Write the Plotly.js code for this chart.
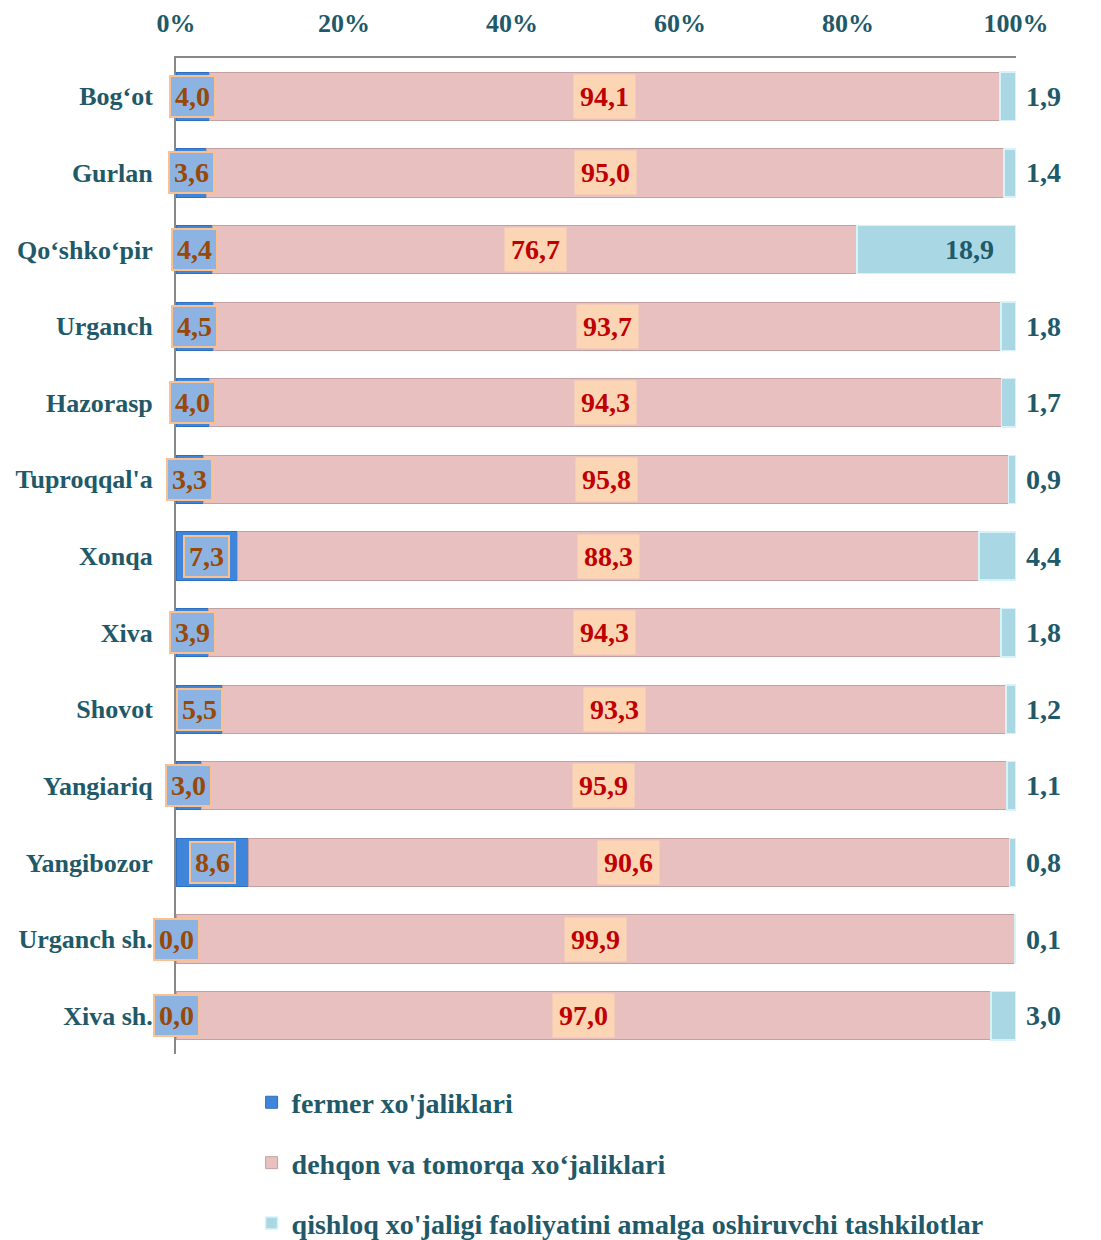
<!DOCTYPE html>
<html>
<head>
<meta charset="utf-8">
<script src="https://cdn.plot.ly/plotly-3.0.1.min.js"></script>
<style>
  html, body { margin: 0; padding: 0; background: #fff; }
  #grafik { width: 1101px; height: 1240px; }
</style>
</head>
<body>
<div id="grafik"></div>
<script>
// ── ma'lumotlar (foizlarda) ──
var tumanlar = ["Bog‘ot", "Gurlan", "Qo‘shko‘pir", "Urganch", "Hazorasp", "Tuproqqal'a",
    "Xonqa", "Xiva", "Shovot", "Yangiariq", "Yangibozor", "Urganch sh.", "Xiva sh."];

var fermer   = [4.0, 3.6, 4.4, 4.5, 4.0, 3.3, 7.3, 3.9, 5.5, 3.0, 8.6, 0.0, 0.0];
var dehqon   = [94.1, 95.0, 76.7, 93.7, 94.3, 95.8, 88.3, 94.3, 93.3, 95.9, 90.6, 99.9, 97.0];
var qishloq  = [1.9, 1.4, 18.9, 1.8, 1.7, 0.9, 4.4, 1.8, 1.2, 1.1, 0.8, 0.1, 3.0];

var shkalaQiymat = [0, 20, 40, 60, 80, 100];
var shkalaMatn   = ["0%", "20%", "40%", "60%", "80%", "100%"];

var nomlar = ["fermer xo'jaliklari", "dehqon va tomorqa xo‘jaliklari",
    "qishloq xo'jaligi faoliyatini amalga oshiruvchi tashkilotlar"];

var shrift = "Liberation Serif, Times New Roman, serif";
var rangMatn = "#215968";

function vergul(v) {
    return v.toFixed(1).replace(".", ",");
}

var traces = [
    {
        type: "bar", orientation: "h", name: nomlar[0], legendgroup: "a",
        y: tumanlar, x: fermer,
        marker: { color: "#3F86DA", line: { color: "#2F6FC0", width: 1 } },
        hoverinfo: "skip"
    },
    {
        type: "bar", orientation: "h", name: nomlar[1], legendgroup: "b",
        y: tumanlar, x: dehqon,
        marker: { color: "#E9C0C0", line: { color: "#C4A0A0", width: 1 } },
        hoverinfo: "skip"
    },
    {
        type: "bar", orientation: "h", name: nomlar[2], legendgroup: "c",
        y: tumanlar, x: qishloq,
        marker: { color: "#A9D8E4", line: { color: "#D6F3F9", width: 1.5 } },
        hoverinfo: "skip"
    }
];

// ── yorliqlar (annotations) ──
var yorliqlar = [];
tumanlar.forEach(function (t, i) {
    yorliqlar.push({
        x: fermer[i] / 2, y: t, xref: "x", yref: "y",
        text: vergul(fermer[i]), showarrow: false,
        font: { family: shrift, size: 28, color: "#984807", weight: "bold" },
        bgcolor: "#8DB3E2", bordercolor: "#FAC090", borderwidth: 2, borderpad: 4
    });
    yorliqlar.push({
        x: fermer[i] + dehqon[i] / 2, y: t, xref: "x", yref: "y",
        text: vergul(dehqon[i]), showarrow: false,
        font: { family: shrift, size: 28, color: "#C00000", weight: "bold" },
        bgcolor: "#FCD5B5", borderpad: 6
    });
    var ichida = qishloq[i] > 10;
    yorliqlar.push({
        x: 100, y: t, xref: "x", yref: "y",
        text: vergul(qishloq[i]), showarrow: false,
        xanchor: ichida ? "right" : "left",
        xshift: ichida ? -20 : 8,
        font: { family: shrift, size: 28, color: rangMatn, weight: "bold" }
    });
});

var layout = {
    width: 1101, height: 1240,
    margin: { l: 176, r: 85, t: 58, b: 186 },
    paper_bgcolor: "#fff", plot_bgcolor: "#fff",
    barmode: "stack", bargap: 0.37,
    font: { family: shrift, color: rangMatn, weight: "bold" },
    xaxis: {
        side: "top", range: [0, 100], tickvals: shkalaQiymat, ticktext: shkalaMatn,
        showgrid: false, zeroline: false,
        showline: true, linecolor: "#888", linewidth: 2,
        ticks: "", ticklabelstandoff: 14,
        tickfont: { family: shrift, size: 26, color: rangMatn, weight: "bold" }
    },
    yaxis: {
        autorange: "reversed", showgrid: false, zeroline: false,
        showline: true, linecolor: "#888", linewidth: 2,
        ticks: "", ticklabelstandoff: 16,
        tickfont: { family: shrift, size: 26, color: rangMatn, weight: "bold" }
    },
    showlegend: true,
    legend: {
        orientation: "v", xref: "paper", x: 0.09, yref: "container", y: 0.131,
        xanchor: "left", yanchor: "top",
        traceorder: "grouped", tracegroupgap: 21,
        itemwidth: 30,
        font: { family: shrift, size: 28, color: rangMatn, weight: "bold" }
    },
    annotations: yorliqlar
};

Plotly.newPlot("grafik", traces, layout, { displayModeBar: false, staticPlot: true });
</script>
</body>
</html>
